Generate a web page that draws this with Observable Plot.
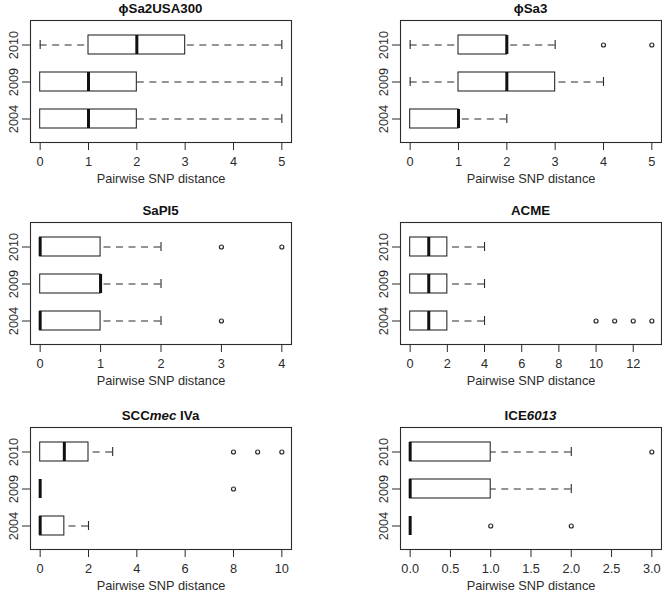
<!DOCTYPE html>
<html><head><meta charset="utf-8">
<script src="https://cdn.jsdelivr.net/npm/d3@7"></script>
<script src="https://cdn.jsdelivr.net/npm/@observablehq/plot@0.6"></script>
<style>
body{margin:0;background:#fff;}
#wrap{position:relative;width:662px;height:594px;font-family:"Liberation Sans",Arial,Helvetica,sans-serif;}
.panel{position:absolute;width:331px;height:195px;}
.title{position:absolute;top:0;height:18px;line-height:18px;text-align:center;font-weight:bold;font-size:13.3px;color:#111;white-space:nowrap;}
.panel svg{position:absolute;left:0;top:0;}
</style></head><body><div id="wrap"></div>
<script>
// Years, top to bottom in each panel
const years = ["2010", "2009", "2004"];
// Title parts: even index = upright, odd index = italic
const titleParts = [
  ["ϕSa2USA300"], ["ϕSa3"], ["SaPI5"], ["ACME"],
  ["SCC", "mec", " IVa"], ["ICE", "6013"]
];
// Five-number summaries [min, q1, median, q3, max] for 2010, 2009, 2004
const phiSa2USA300 = [[0, 1, 2, 3, 5], [0, 0, 1, 2, 5], [0, 0, 1, 2, 5]];
const phiSa3       = [[0, 1, 2, 2, 3], [0, 1, 2, 3, 4], [0, 0, 1, 1, 2]];
const SaPI5        = [[0, 0, 0, 1, 2], [0, 0, 1, 1, 2], [0, 0, 0, 1, 2]];
const ACME         = [[0, 0, 1, 2, 4], [0, 0, 1, 2, 4], [0, 0, 1, 2, 4]];
const SCCmecIVa    = [[0, 0, 1, 2, 3], [0, 0, 0, 0, 0], [0, 0, 0, 1, 2]];
const ICE6013      = [[0, 0, 0, 1, 2], [0, 0, 0, 1, 2], [0, 0, 0, 0, 0]];
// Outliers for 2010, 2009, 2004
const phiSa2USA300Out = [[], [], []];
const phiSa3Out       = [[4, 5], [], []];
const SaPI5Out        = [[3, 4], [], [3]];
const ACMEOut         = [[], [], [10, 11, 12, 13]];
const SCCmecIVaOut    = [[8, 9, 10], [8], []];
const ICE6013Out      = [[3], [], [1, 2]];
// Axes
const xRanges = [[0, 5], [0, 5], [0, 4], [0, 13], [0, 10], [0, 3]];
const xTicks = [
  [0, 1, 2, 3, 4, 5], [0, 1, 2, 3, 4, 5], [0, 1, 2, 3, 4],
  [0, 2, 4, 6, 8, 10, 12], [0, 2, 4, 6, 8, 10], [0, 0.5, 1, 1.5, 2, 2.5, 3]
];
const xTickLabels = [
  ["0", "1", "2", "3", "4", "5"], ["0", "1", "2", "3", "4", "5"], ["0", "1", "2", "3", "4"],
  ["0", "2", "4", "6", "8", "10", "12"], ["0", "2", "4", "6", "8", "10"],
  ["0.0", "0.5", "1.0", "1.5", "2.0", "2.5", "3.0"]
];
const xLabel = "Pairwise SNP distance";

const stats = [phiSa2USA300, phiSa3, SaPI5, ACME, SCCmecIVa, ICE6013];
const outs = [phiSa2USA300Out, phiSa3Out, SaPI5Out, ACMEOut, SCCmecIVaOut, ICE6013Out];

const wrap = document.getElementById("wrap");
const panelTops = [0, 202, 407];
const ink = "#2b2b2b";

stats.forEach((st, p) => {
  const col = p % 2, row = Math.floor(p / 2);
  const ml = col === 0 ? 30 : 69;
  const mr = col === 0 ? 40 : 1;
  const rows = years.map((y, i) => ({year: y, min: st[i][0], q1: st[i][1], median: st[i][2], q3: st[i][3], max: st[i][4]}));
  const outliers = years.flatMap((y, i) => outs[p][i].map(v => ({year: y, value: v})));
  const [lo, hi] = xRanges[p];
  const ext = (hi - lo) * 0.04;
  const ticks = xTicks[p], labels = xTickLabels[p];

  const chart = Plot.plot({
    width: 331, height: 195,
    marginLeft: ml, marginRight: mr, marginTop: 20, marginBottom: 53,
    x: {domain: [lo - ext, hi + ext]},
    y: {type: "band", domain: years, paddingInner: 0.5, paddingOuter: 0.37},
    style: {fontFamily: '"Liberation Sans", Arial, Helvetica, sans-serif', fontSize: "12.75px", color: ink, background: "white", overflow: "visible"},
    marks: [
      Plot.ruleY(rows, {y: "year", x1: "min", x2: "q1", stroke: ink, strokeWidth: 1.1, strokeDasharray: "7,5.5"}),
      Plot.ruleY(rows, {y: "year", x1: "max", x2: "q3", stroke: ink, strokeWidth: 1.1, strokeDasharray: "7,5.5"}),
      Plot.tickX(rows, {x: "min", y: "year", stroke: ink, strokeWidth: 1.1, insetTop: 5, insetBottom: 5}),
      Plot.tickX(rows, {x: "max", y: "year", stroke: ink, strokeWidth: 1.1, insetTop: 5, insetBottom: 5}),
      Plot.barX(rows, {x1: "q1", x2: "q3", y: "year", fill: "white", stroke: ink, strokeWidth: 1.1}),
      Plot.tickX(rows, {x: "median", y: "year", stroke: "#111", strokeWidth: 3}),
      Plot.dot(outliers, {x: "value", y: "year", r: 2, stroke: ink, strokeWidth: 1.2, fill: "none"}),
      Plot.frame({stroke: ink, strokeWidth: 1.1}),
      Plot.axisX({ticks, tickFormat: v => labels[ticks.indexOf(v)], tickSize: 8, tickPadding: 6, label: null}),
      Plot.axisY({tickSize: 8, tickRotate: -90, tickPadding: 5, label: null}),
      Plot.text([xLabel], {frameAnchor: "bottom", dy: 40, fill: ink, text: d => d})
    ]
  });

  const panel = document.createElement("div");
  panel.className = "panel";
  panel.style.left = (col * 331) + "px";
  panel.style.top = panelTops[row] + "px";
  panel.appendChild(chart);
  const title = document.createElement("div");
  title.className = "title";
  title.style.left = ml + "px";
  title.style.width = (331 - ml - mr) + "px";
  titleParts[p].forEach((t, k) => {
    const span = document.createElement(k % 2 ? "i" : "span");
    span.textContent = t;
    title.appendChild(span);
  });
  panel.appendChild(title);
  wrap.appendChild(panel);
});
</script>
</body></html>
